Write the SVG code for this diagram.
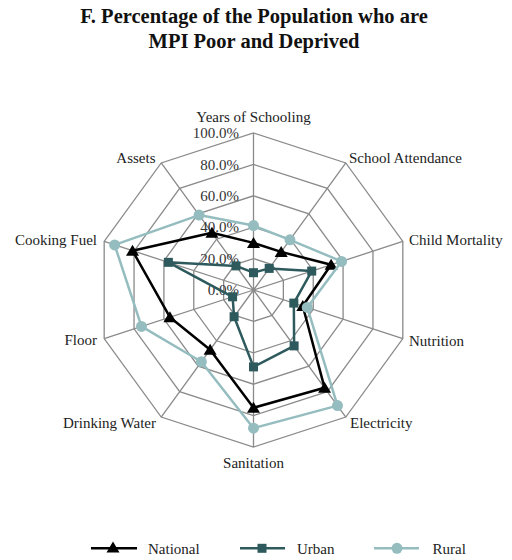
<svg xmlns="http://www.w3.org/2000/svg" width="512" height="560" viewBox="0 0 512 560">
<style>
.title{font-family:"Liberation Serif","DejaVu Serif",serif;font-weight:bold;font-size:20.5px;fill:#111;text-anchor:middle}
.lbl{font-family:"Liberation Serif","DejaVu Serif",serif;font-size:15px;fill:#222}
.tick{font-family:"Liberation Serif","DejaVu Serif",serif;font-size:15px;fill:#333;text-anchor:end}
.grid{fill:none;stroke:#8a8a8a;stroke-width:1.3}
.nat{fill:none;stroke:#000;stroke-width:2.5;stroke-linejoin:round}
.urb{fill:none;stroke:#2e5a5d;stroke-width:2.5;stroke-linejoin:round}
.rur{fill:none;stroke:#95bdbf;stroke-width:2.5;stroke-linejoin:round}
</style>
<defs>
<path id="tri" d="M0,-6 L6.5,5 L-6.5,5 Z" fill="#000"/>
<rect id="sq" x="-4.5" y="-4.5" width="9" height="9" fill="#2e5a5d"/>
<circle id="dot" r="5.5" fill="#95bdbf"/>
</defs>
<rect width="512" height="560" fill="#fff"/>
<g id="title">
<text class="title" x="254" y="23">F. Percentage of the Population who are</text>
<text class="title" x="254" y="48">MPI Poor and Deprived</text>
</g>
<g id="grid">
<polygon class="grid" points="253.5,258.6 271.96,264.6 283.36,280.3 283.36,299.7 271.96,315.4 253.5,321.4 235.04,315.4 223.64,299.7 223.64,280.3 235.04,264.6"/>
<polygon class="grid" points="253.5,227.2 290.41,239.19 313.23,270.59 313.23,309.41 290.41,340.81 253.5,352.8 216.59,340.81 193.77,309.41 193.77,270.59 216.59,239.19"/>
<polygon class="grid" points="253.5,195.8 308.87,213.79 343.09,260.89 343.09,319.11 308.87,366.21 253.5,384.2 198.13,366.21 163.91,319.11 163.91,260.89 198.13,213.79"/>
<polygon class="grid" points="253.5,164.4 327.33,188.39 372.96,251.19 372.96,328.81 327.33,391.61 253.5,415.6 179.67,391.61 134.04,328.81 134.04,251.19 179.67,188.39"/>
<polygon class="grid" points="253.5,133 345.79,162.99 402.82,241.49 402.82,338.51 345.79,417.01 253.5,447 161.21,417.01 104.18,338.51 104.18,241.49 161.21,162.99"/>
<path class="grid" d="M253.5,290L253.5,133M253.5,290L345.79,162.99M253.5,290L402.82,241.49M253.5,290L402.82,338.51M253.5,290L345.79,417.01M253.5,290L253.5,447M253.5,290L161.21,417.01M253.5,290L104.18,338.51M253.5,290L104.18,241.49M253.5,290L161.21,162.99"/>
</g>
<g id="ticks">
<text class="tick" x="239" y="138">100.0%</text>
<text class="tick" x="239" y="169.5">80.0%</text>
<text class="tick" x="239" y="201">60.0%</text>
<text class="tick" x="239" y="232">40.0%</text>
<text class="tick" x="239" y="263.5">20.0%</text>
<text class="tick" x="239" y="295">0.0%</text>
</g>
<g id="axis-labels">
<text class="lbl" x="253.5" y="122" text-anchor="middle">Years of Schooling</text>
<text class="lbl" x="349" y="163">School Attendance</text>
<text class="lbl" x="409" y="245">Child Mortality</text>
<text class="lbl" x="409" y="346">Nutrition</text>
<text class="lbl" x="350" y="428">Electricity</text>
<text class="lbl" x="253.5" y="468" text-anchor="middle">Sanitation</text>
<text class="lbl" x="156" y="428" text-anchor="end">Drinking Water</text>
<text class="lbl" x="97" y="345" text-anchor="end">Floor</text>
<text class="lbl" x="97" y="245" text-anchor="end">Cooking Fuel</text>
<text class="lbl" x="155.5" y="163" text-anchor="end">Assets</text>
</g>
<g id="series-national">
<polygon class="nat" points="253.5,242.9 281.19,251.9 331.11,264.79 302.77,306.01 324.57,387.81 253.5,407.8 210.12,349.7 169.9,317.16 132.52,250.7 211.94,232.8"/>
<use href="#tri" x="253.5" y="242.9"/><use href="#tri" x="281.19" y="251.9"/><use href="#tri" x="331.11" y="264.79"/><use href="#tri" x="302.77" y="306.01"/><use href="#tri" x="324.57" y="387.81"/><use href="#tri" x="253.5" y="407.8"/><use href="#tri" x="210.12" y="349.7"/><use href="#tri" x="169.9" y="317.16"/><use href="#tri" x="132.52" y="250.7"/><use href="#tri" x="211.94" y="232.8"/>
</g>
<g id="series-urban">
<polygon class="urb" points="253.5,272.7 269.19,268.4 311.71,271.09 293.83,303.1 294.12,345.9 253.5,366.9 234.1,316.7 232.58,296.8 168.38,262.34 235.98,265.89"/>
<use href="#sq" x="253.5" y="272.7"/><use href="#sq" x="269.19" y="268.4"/><use href="#sq" x="311.71" y="271.09"/><use href="#sq" x="293.83" y="303.1"/><use href="#sq" x="294.12" y="345.9"/><use href="#sq" x="253.5" y="366.9"/><use href="#sq" x="234.1" y="316.7"/><use href="#sq" x="232.58" y="296.8"/><use href="#sq" x="168.38" y="262.34"/><use href="#sq" x="235.98" y="265.89"/>
</g>
<g id="series-rural">
<polygon class="rur" points="253.5,225.6 289.94,239.84 341.57,261.39 307.24,307.46 337.5,405.61 253.5,428.2 201.36,361.76 141.46,326.4 114.64,244.89 199.07,215.09"/>
<use href="#dot" x="253.5" y="225.6"/><use href="#dot" x="289.94" y="239.84"/><use href="#dot" x="341.57" y="261.39"/><use href="#dot" x="307.24" y="307.46"/><use href="#dot" x="337.5" y="405.61"/><use href="#dot" x="253.5" y="428.2"/><use href="#dot" x="201.36" y="361.76"/><use href="#dot" x="141.46" y="326.4"/><use href="#dot" x="114.64" y="244.89"/><use href="#dot" x="199.07" y="215.09"/>
</g>
<g id="legend">
<line class="nat" x1="91" y1="548.3" x2="137" y2="548.3"/><use href="#tri" x="113" y="547.5"/>
<text class="lbl" x="148" y="553.5">National</text>
<line class="urb" x1="240" y1="548.3" x2="285" y2="548.3"/><use href="#sq" x="262" y="548.3"/>
<text class="lbl" x="297" y="553.5">Urban</text>
<line class="rur" x1="374" y1="548.3" x2="419" y2="548.3"/><use href="#dot" x="397" y="548.3"/>
<text class="lbl" x="432.5" y="553.5">Rural</text>
</g>
</svg>
